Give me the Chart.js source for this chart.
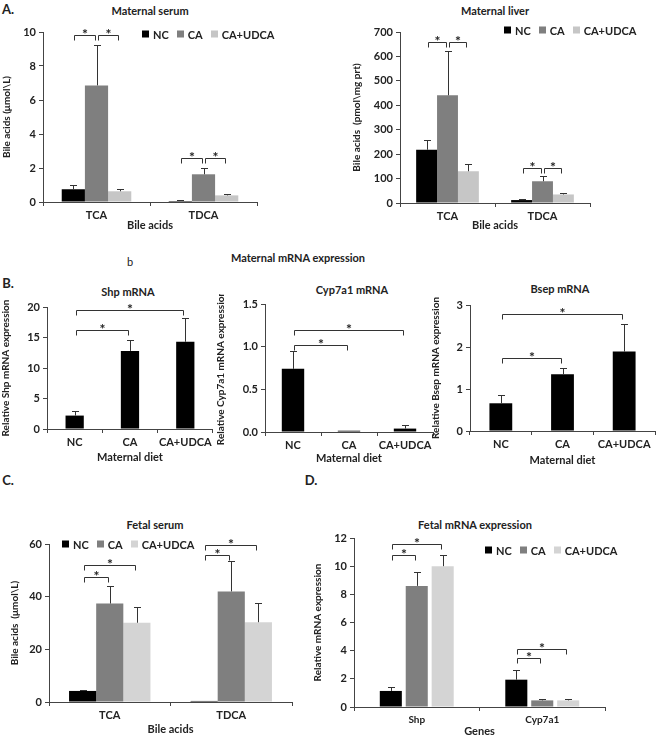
<!DOCTYPE html>
<html lang="en">
<head>
<meta charset="UTF-8">
<title>Maternal and fetal bile acids</title>
<script src="https://cdn.jsdelivr.net/npm/chart.js"></script>
<style>
    body {
        margin: 0;
        width: 656px;
        height: 735px;
        background: #ffffff;
        overflow: hidden;
        position: relative;
        font-family: Lato, 'Open Sans', sans-serif;
        font-weight: 700;
        color: #222;
    }
    canvas { position: absolute; }
    .txt {
        position: absolute;
        white-space: nowrap;
        transform: translate(-50%, -50%);
        font-size: 11px;
        line-height: 1;
    }
    .letter { font-size: 13px; }
    .legend {
        position: absolute;
        display: flex;
        align-items: center;
        font-size: 11px;
        line-height: 1;
        transform: translateY(-50%);
        white-space: nowrap;
    }
    .legend .item { display: flex; align-items: center; margin-right: 8px; }
    .legend .sw { width: 7px; height: 7px; margin-right: 4px; }
</style>
</head>
<body>
<div class="txt letter" style="left:8px;top:9px">A.</div>
<div class="txt" style="left:150px;top:10px">Maternal serum</div>
<div class="txt" style="left:495px;top:10px">Maternal liver</div>
<div class="txt" style="left:130px;top:261px;font-weight:400">b</div>
<div class="txt" style="left:298px;top:257px">Maternal mRNA expression</div>
<div class="txt letter" style="left:8px;top:283px">B.</div>
<div class="txt" style="left:128px;top:291px">Shp mRNA</div>
<div class="txt" style="left:352px;top:289px">Cyp7a1 mRNA</div>
<div class="txt" style="left:560px;top:288px">Bsep mRNA</div>
<div class="txt letter" style="left:8px;top:480px">C.</div>
<div class="txt letter" style="left:311px;top:480px">D.</div>
<div class="txt" style="left:155px;top:524px">Fetal serum</div>
<div class="txt" style="left:475px;top:524px">Fetal mRNA expression</div>

<script>
// categories
const dietGroups = ["NC", "CA", "CA+UDCA"];
const bileAcids = ["TCA", "TDCA"];
const fetalGenes = ["Shp", "Cyp7a1"];

// A. maternal serum (umol/L): bar value and top of error bar, per bile acid
const mSerumNC = [0.75, 0.06], mSerumNCTop = [1.02, 0.14];
const mSerumCA = [6.86, 1.63], mSerumCATop = [9.25, 2.02];
const mSerumUD = [0.63, 0.39], mSerumUDTop = [0.78, 0.49];
const mSerumSig = [[0, 0, 1, 0, 9.8], [1, 0, 2, 0, 9.8], [0, 1, 1, 1, 2.6], [1, 1, 2, 1, 2.6]];

// A. maternal liver (pmol/mg prt)
const mLiverNC = [218, 12], mLiverNCTop = [259, 16];
const mLiverCA = [441, 89], mLiverCATop = [623, 109];
const mLiverUD = [130, 35], mLiverUDTop = [161, 41];
const mLiverSig = [[0, 0, 1, 0, 658], [1, 0, 2, 0, 658], [0, 1, 1, 1, 145], [1, 1, 2, 1, 145]];

// B. maternal mRNA, per diet group
const shpVals = [2.2, 12.8, 14.3], shpTop = [2.9, 14.6, 18.2];
const shpSig = [[0, 0, 0, 1, 16.2], [0, 0, 0, 2, 19.5]];
const cypVals = [0.74, 0.015, 0.04], cypTop = [0.95, null, 0.08];
const cypSig = [[0, 0, 0, 1, 1.02], [0, 0, 0, 2, 1.2]];
const bsepVals = [0.66, 1.35, 1.89], bsepTop = [0.86, 1.49, 2.55];
const bsepSig = [[0, 0, 0, 1, 1.73], [0, 0, 0, 2, 2.78]];

// C. fetal serum (umol/L)
const fSerumNC = [4.2, 0.4], fSerumNCTop = [4.7, null];
const fSerumCA = [37.4, 42.0], fSerumCATop = [44.1, 53.5];
const fSerumUD = [30.1, 30.3], fSerumUDTop = [36.2, 37.7];
const fSerumSig = [[0, 0, 1, 0, 47.5], [0, 0, 2, 0, 52.1], [0, 1, 1, 1, 55.8], [0, 1, 2, 1, 59.6]];

// D. fetal mRNA
const fGeneNC = [1.14, 1.94], fGeneNCTop = [1.4, 2.6];
const fGeneCA = [8.6, 0.47], fGeneCATop = [9.6, 0.6];
const fGeneUD = [10.0, 0.47], fGeneUDTop = [10.8, 0.6];
const fGeneSig = [[0, 0, 1, 0, 10.8], [0, 0, 2, 0, 11.6], [0, 1, 1, 1, 3.45], [0, 1, 2, 1, 4.15]];

const FONT = "Lato, 'Open Sans', sans-serif";
const TEXT = '#222';
const AXIS = '#444';
const NC_COL = '#000000', CA_COL = '#7f7f7f', UD_COL = '#c6c6c6', UD_COL_F = '#d4d4d4';

// error bars (upper only) and significance brackets, placed with the chart's own scales
function marksPlugin(brackets) {
    return {
        id: 'marks',
        afterDatasetsDraw(chart) {
            const ctx = chart.ctx;
            const ys = chart.scales.y;
            ctx.save();
            ctx.strokeStyle = '#333';
            ctx.lineWidth = 1;
            chart.data.datasets.forEach((ds, di) => {
                const meta = chart.getDatasetMeta(di);
                (ds.errTop || []).forEach((e, i) => {
                    if (e == null) return;
                    const bar = meta.data[i];
                    const x = Math.round(bar.x) + 0.5;
                    const y1 = Math.round(ys.getPixelForValue(e)) + 0.5;
                    ctx.beginPath();
                    ctx.moveTo(x, bar.y);
                    ctx.lineTo(x, y1);
                    ctx.moveTo(x - 3.5, y1);
                    ctx.lineTo(x + 3.5, y1);
                    ctx.stroke();
                });
            });
            ctx.fillStyle = '#222';
            ctx.font = 'bold 14px ' + FONT;
            ctx.textAlign = 'center';
            ctx.textBaseline = 'alphabetic';
            brackets.forEach(b => {
                const x1 = Math.round(chart.getDatasetMeta(b[0]).data[b[1]].x) + 1.5;
                const x2 = Math.round(chart.getDatasetMeta(b[2]).data[b[3]].x) - 1.5;
                const y = Math.round(ys.getPixelForValue(b[4])) + 0.5;
                ctx.beginPath();
                ctx.moveTo(x1, y + 5);
                ctx.lineTo(x1, y);
                ctx.lineTo(x2, y);
                ctx.lineTo(x2, y + 5);
                ctx.stroke();
                ctx.fillText('*', (x1 + x2) / 2, y + 3);
            });
            ctx.restore();
        }
    };
}

function makeChart(o) {
    const cv = document.createElement('canvas');
    const left = o.L - o.yw, top = o.T - o.pt;
    const w = o.R + o.pr - left, h = o.B + o.xh - top;
    cv.width = w;
    cv.height = h;
    cv.style.left = left + 'px';
    cv.style.top = top + 'px';
    cv.style.width = w + 'px';
    cv.style.height = h + 'px';
    document.body.appendChild(cv);
    const chart = new Chart(cv, {
        type: 'bar',
        data: { labels: o.labels, datasets: o.datasets },
        options: {
            responsive: false,
            animation: false,
            devicePixelRatio: 1,
            layout: { padding: { top: o.pt, right: o.pr, left: 0, bottom: 0 } },
            plugins: { legend: { display: false }, tooltip: { enabled: false } },
            datasets: { bar: { barPercentage: o.bp, categoryPercentage: o.cp } },
            scales: {
                x: {
                    grid: { drawOnChartArea: false, tickLength: 4, color: AXIS },
                    border: { color: AXIS },
                    ticks: { font: { family: FONT, size: o.xfs || 11, weight: 'bold' }, color: TEXT, padding: 3, maxRotation: 0, autoSkip: false },
                    title: { display: true, text: o.xTitle, font: { family: FONT, size: 11, weight: 'bold' }, color: TEXT, padding: 0 },
                    afterFit: s => { s.height = o.xh; }
                },
                y: {
                    min: 0,
                    max: o.max,
                    grid: { drawOnChartArea: false, tickLength: 4, color: AXIS },
                    border: { color: AXIS },
                    ticks: { stepSize: o.step, font: { family: FONT, size: 11, weight: 'bold' }, color: TEXT, padding: 3,
                             callback: v => v.toFixed(o.dec || 0) },
                    title: { display: true, text: o.yTitle, font: { family: FONT, size: 10, weight: 'bold' }, color: TEXT,
                             padding: { top: o.tp, bottom: 0 } },
                    afterFit: s => { s.width = o.yw; }
                }
            }
        },
        plugins: [marksPlugin(o.sig)]
    });
    if (o.legend) addLegend(chart, o.legend[0], o.legend[1]);
    return chart;
}

function addLegend(chart, x, y) {
    const box = document.createElement('div');
    box.className = 'legend';
    box.style.left = x + 'px';
    box.style.top = y + 'px';
    chart.data.datasets.forEach(ds => {
        const it = document.createElement('div');
        it.className = 'item';
        const sw = document.createElement('div');
        sw.className = 'sw';
        sw.style.background = ds.backgroundColor;
        it.appendChild(sw);
        it.appendChild(document.createTextNode(ds.label));
        box.appendChild(it);
    });
    document.body.appendChild(box);
}

function trio(nc, ncTop, ca, caTop, ud, udTop, udCol) {
    return [
        { label: dietGroups[0], data: nc, errTop: ncTop, backgroundColor: NC_COL },
        { label: dietGroups[1], data: ca, errTop: caTop, backgroundColor: CA_COL },
        { label: dietGroups[2], data: ud, errTop: udTop, backgroundColor: udCol }
    ];
}

function single(vals, tops) {
    return [{ label: 'mean', data: vals, errTop: tops, backgroundColor: NC_COL }];
}

// A. maternal serum
makeChart({ L: 43, T: 32, R: 257, B: 202, yw: 43, pt: 12, pr: 4, xh: 30, tp: 1,
    labels: bileAcids, datasets: trio(mSerumNC, mSerumNCTop, mSerumCA, mSerumCATop, mSerumUD, mSerumUDTop, UD_COL),
    max: 10, step: 2, bp: 1, cp: 0.65, xTitle: 'Bile acids', yTitle: 'Bile acids (\u03bcmol\\L)',
    sig: mSerumSig, legend: [142, 34] });

// A. maternal liver
makeChart({ L: 400, T: 32, R: 590, B: 203, yw: 50, pt: 12, pr: 4, xh: 29, tp: 1,
    labels: bileAcids, datasets: trio(mLiverNC, mLiverNCTop, mLiverCA, mLiverCATop, mLiverUD, mLiverUDTop, UD_COL),
    max: 700, step: 100, bp: 1, cp: 0.66, xTitle: 'Bile acids', yTitle: 'Bile acids  (pmol\\mg prt)',
    sig: mLiverSig, legend: [504, 30] });

// B. Shp, Cyp7a1, Bsep
makeChart({ L: 47, T: 307, R: 213, B: 429, yw: 47, pt: 10, pr: 2, xh: 35, tp: 0,
    labels: dietGroups, datasets: single(shpVals, shpTop),
    max: 20, step: 5, bp: 0.33, cp: 1, xTitle: 'Maternal diet', yTitle: 'Relative Shp mRNA expression', sig: shpSig });

makeChart({ L: 265, T: 304, R: 433, B: 432, yw: 50, pt: 10, pr: 2, xh: 33, tp: 0,
    labels: dietGroups, datasets: single(cypVals, cypTop),
    max: 1.5, step: 0.5, dec: 1, bp: 0.4, cp: 1, xTitle: 'Maternal diet', yTitle: 'Relative Cyp7a1 mRNA expression', sig: cypSig });

makeChart({ L: 470, T: 305, R: 655, B: 431, yw: 40, pt: 10, pr: 1, xh: 36, tp: 0,
    labels: dietGroups, datasets: single(bsepVals, bsepTop),
    max: 3, step: 1, bp: 0.37, cp: 1, xTitle: 'Maternal diet', yTitle: 'Relative Bsep mRNA expression', sig: bsepSig });

// C. fetal serum
makeChart({ L: 49, T: 544, R: 292, B: 702, yw: 49, pt: 10, pr: 4, xh: 34, tp: 9,
    labels: bileAcids, datasets: trio(fSerumNC, fSerumNCTop, fSerumCA, fSerumCATop, fSerumUD, fSerumUDTop, UD_COL_F),
    max: 60, step: 20, bp: 1, cp: 0.67, xTitle: 'Bile acids', yTitle: 'Bile acids  (\u03bcmol\\L)',
    sig: fSerumSig, legend: [62, 544] });

// D. fetal mRNA
makeChart({ L: 354, T: 538, R: 605, B: 707, yw: 42, pt: 10, pr: 4, xh: 31, tp: 0,
    labels: fetalGenes, datasets: trio(fGeneNC, fGeneNCTop, fGeneCA, fGeneCATop, fGeneUD, fGeneUDTop, UD_COL_F),
    max: 12, step: 2, bp: 0.85, cp: 0.62, xfs: 10, xTitle: 'Genes', yTitle: 'Relative mRNA expression',
    sig: fGeneSig, legend: [485, 550] });
</script>
</body>
</html>
